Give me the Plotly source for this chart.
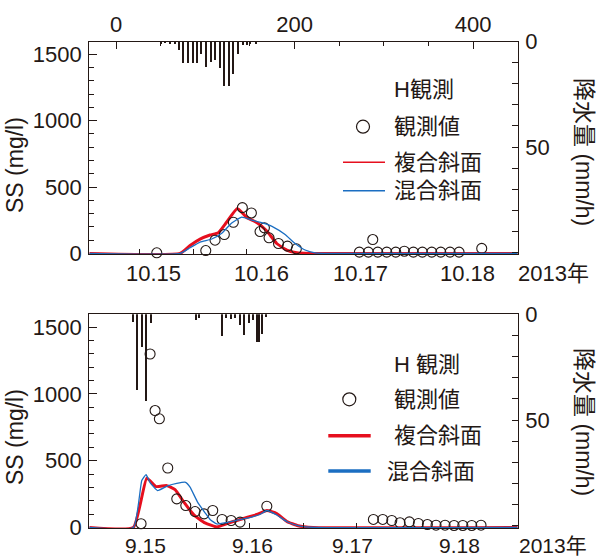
import plotly.graph_objects as go

W, H = 596, 558
INK = "#231815"
RED = "#e60f1e"
BLUE = "#1b6ec2"
FONT = "Liberation Sans, Arial, Noto Sans CJK JP"

# ---------------- data (x in hours, top axis scale) ----------------
# top panel (October event)
rain_top_x = [50.4, 55.7, 60.8, 66.1, 71.4, 75.9, 81.0, 86.3, 91.5, 96.0, 101.2,
              106.4, 111.7, 116.5, 121.8, 126.6, 131.9, 137.0, 142.3, 147.6, 150.1, 156.9]
rain_top_mm = [0.5, 0.3, 0.6, 0.6, 3.8, 9.8, 10.2, 10.2, 9.8, 5.9, 11.9,
               9.5, 8.7, 12.5, 21.0, 21.0, 15.0, 5.9, 1.4, 1.4, 1.0, 0.6]

obs_top_x = [45.6, 100.5, 110.9, 121.3, 131.4, 141.5, 151.6, 161.3, 166.2, 171.4, 182.0, 192.0, 202.0,
             272.6, 282.7, 287.6, 293.2, 303.3, 313.4, 323.0, 333.1, 343.2, 353.7, 363.8, 374.2, 384.3, 409.7]
obs_top_ss = [5, 22, 100, 143, 235, 345, 305, 165, 193, 118, 75, 55, 35,
              10, 10, 105, 10, 10, 10, 17, 10, 10, 10, 10, 10, 10, 38]

red_top_x = [-30, 71.7, 82.9, 94.1, 105.3, 114.6, 124.0, 135.9, 146.4, 157.6, 168.9, 180.0, 191.3, 202.5, 217, 450]
red_top_ss = [0, 0, 60, 108, 139, 156, 237, 338, 271, 233, 169, 75, 26, 5, 0, 0]

blue_top_x = [-30, 71.7, 82.9, 94.1, 107.2, 118.4, 129.6, 140.8, 152.0, 165.0, 176.2, 189.4, 200.6, 211.8, 223.0, 239.8, 450]
blue_top_ss = [0, 0, 43, 86, 109, 152, 230, 274, 252, 228, 199, 143, 75, 26, 5, 0, 0]

# bottom panel (September event)
rain_bot_x = [19.4, 24.3, 29.1, 34.4, 39.2, 89.6, 93.3, 119.6, 124.0, 128.9, 134.1,
              138.9, 144.0, 149.0, 153.8, 158.8, 160.2, 164.1, 168.9]
rain_bot_mm = [4.0, 36.0, 15.4, 41.0, 4.3, 3.0, 2.0, 10.3, 2.0, 2.3, 2.0,
               5.0, 10.0, 4.3, 3.0, 13.3, 13.3, 9.5, 1.4]

obs_bot_x = [28.0, 38.1, 43.7, 48.5, 57.9, 68.0, 78.1, 88.5, 98.6, 108.3, 118.8, 128.9, 138.9, 168.9,
             288.3, 298.8, 308.9, 318.2, 328.6, 338.7, 348.8, 358.5, 368.6, 378.7, 388.5, 398.5, 408.9]
obs_bot_ss = [28, 1298, 875, 813, 445, 214, 164, 119, 102, 127, 60, 52, 40, 159,
              60, 60, 52, 35, 42, 30, 22, 17, 17, 15, 15, 15, 17]

red_bot_x = [-30, 19.4, 34.4, 44.8, 56.8, 66.1, 76.2, 87.4, 99.7, 112.8, 127.7, 142.6, 157.6, 168.9, 180.0, 191.3, 203.9, 220.7, 450]
red_bot_ss = [0, 0, 369, 306, 313, 283, 187, 93, 34, 4, 37, 67, 97, 127, 104, 45, 13, 0, 0]

blue_bot_x = [-30, 19.4, 28.8, 33.6, 38.1, 46.5, 57.7, 68.0, 77.9, 82.9, 91.3, 99.7, 105.3, 112.8, 124.0,
              136.7, 152.0, 161.3, 168.9, 180.0, 192.2, 206.2, 223.0, 450]
blue_bot_ss = [0, 0, 351, 395, 336, 276, 311, 330, 338, 302, 190, 110, 60, 26, 37,
               56, 78, 97, 127, 93, 41, 10, 0, 0]

# tick labels
hour_ticks = [0, 200, 400]
date_top_pos = [41.5, 162.5, 273.4, 393.3]
date_top_txt = ["10.15", "10.16", "10.17", "10.18"]
date_top_marks = [26.1, 86.3, 146.4]
date_bot_pos = [32.5, 152.4, 264.4, 384.3]
date_bot_txt = ["9.15", "9.16", "9.17", "9.18"]
date_bot_marks = [89.6, 149.6, 209.5, 269.4]
ss_ticks = [0, 500, 1000, 1500]
rain_ticks = list(range(0, 101, 10))
rain_text = ["0" if v == 0 else ("50" if v == 50 else "") for v in rain_ticks]

# ---------------- layout helpers ----------------
def px(x):
    return x / W

def py(y):
    return 1 - y / H

XD = [px(89.3), px(517.7)]
TOP_D = [py(254.0), py(41.7)]
BOT_D = [py(528.0), py(314.3)]
XR = [-30, 450]

tickfont = dict(family=FONT, size=22, color=INK)
line = dict(showline=True, linecolor=INK, linewidth=1.2, showgrid=False, zeroline=False, automargin=False)
bare = dict(showline=False, showgrid=False, zeroline=False, automargin=False)

fig = go.Figure()

def add_panel(xa_bar, xa_red, xa_blue, xa_obs, ya, ya2, rx, rmm, ox, oss, rdx, rdy, blx, bly):
    fig.add_trace(go.Bar(x=rx, y=rmm, width=1.5, marker=dict(color=INK, line=dict(width=0)),
                         xaxis=xa_bar, yaxis=ya2, showlegend=False))
    fig.add_trace(go.Scatter(x=rdx, y=rdy, mode="lines", line=dict(color=RED, width=3.0, shape="spline", smoothing=0.4),
                             xaxis=xa_red, yaxis=ya, showlegend=False))
    fig.add_trace(go.Scatter(x=blx, y=bly, mode="lines", line=dict(color=BLUE, width=1.3, shape="spline", smoothing=0.4),
                             xaxis=xa_blue, yaxis=ya, showlegend=False))
    fig.add_trace(go.Scatter(x=ox, y=oss, mode="markers",
                             marker=dict(symbol="circle-open", size=10, color=INK, line=dict(width=1.1)),
                             xaxis=xa_obs, yaxis=ya, showlegend=False, cliponaxis=False))

# every axis (incl. overlaid tick-only axes) carries a trace so that it is drawn
add_panel("x", "x", "x5", "x2", "y", "y2", rain_top_x, rain_top_mm, obs_top_x, obs_top_ss,
          red_top_x, red_top_ss, blue_top_x, blue_top_ss)
add_panel("x3", "x3", "x6", "x3", "y3", "y4", rain_bot_x, rain_bot_mm, obs_bot_x, obs_bot_ss,
          red_bot_x, red_bot_ss, blue_bot_x, blue_bot_ss)

fig.update_layout(
    width=W, height=H, margin=dict(l=0, r=0, t=0, b=0, autoexpand=False),
    paper_bgcolor="white", plot_bgcolor="white",
    font=dict(family=FONT, color=INK),
    bargap=0,
    # top panel
    xaxis=dict(domain=XD, anchor="y", range=XR, showticklabels=False, ticks="", layer="below traces", **line),
    xaxis2=dict(overlaying="x", side="top", anchor="y", range=XR, tickmode="array", tickvals=hour_ticks,
                ticks="inside", ticklen=7, tickcolor=INK, tickfont=tickfont,
                minor=dict(dtick=50, tick0=0, ticks="inside", ticklen=4, tickcolor=INK), **line),
    xaxis5=dict(overlaying="x", side="bottom", anchor="y", range=XR, tickmode="array", tickvals=date_top_marks,
                ticks="inside", ticklen=5, tickcolor=INK, showticklabels=False, **bare),
    yaxis=dict(domain=TOP_D, anchor="x", range=[-4, 1595], tickmode="array", tickvals=ss_ticks,
               ticks="inside", ticklen=8, tickcolor=INK, tickfont=tickfont, ticklabelstandoff=2,
               minor=dict(dtick=100, tick0=0, ticks="inside", ticklen=5, tickcolor=INK), **line),
    yaxis2=dict(overlaying="y", side="right", anchor="x", range=[100.8, 0], tickmode="array", tickvals=rain_ticks,
                ticktext=rain_text, ticks="inside", ticklen=6, tickcolor=INK, tickfont=tickfont, ticklabelstandoff=2, **line),
    # bottom panel
    xaxis3=dict(domain=XD, anchor="y3", range=XR, showticklabels=False, ticks="", mirror=True,
                layer="below traces", **line),
    xaxis6=dict(overlaying="x3", side="bottom", anchor="y3", range=XR, tickmode="array", tickvals=date_bot_marks,
                ticks="inside", ticklen=5, tickcolor=INK, showticklabels=False, **bare),
    yaxis3=dict(domain=BOT_D, anchor="x3", range=[-4, 1595], tickmode="array", tickvals=ss_ticks,
                ticks="inside", ticklen=8, tickcolor=INK, tickfont=tickfont, ticklabelstandoff=2,
                minor=dict(dtick=100, tick0=0, ticks="inside", ticklen=5, tickcolor=INK), **line),
    yaxis4=dict(overlaying="y3", side="right", anchor="x3", range=[101, 0], tickmode="array", tickvals=rain_ticks,
                ticktext=rain_text, ticks="inside", ticklen=6, tickcolor=INK, tickfont=tickfont, ticklabelstandoff=2, **line),
)

# ---------------- titles & legends ----------------
def ann(text, x, y, size=22, angle=0, xanchor="center", yanchor="middle"):
    fig.add_annotation(text=text, x=px(x), y=py(y), xref="paper", yref="paper", showarrow=False,
                       textangle=angle, xanchor=xanchor, yanchor=yanchor, borderpad=0,
                       font=dict(family=FONT, size=size, color=INK))

# date tick labels, placed through the x scale
bot_font = dict(family=FONT, size=21, color=INK)
for p, t in zip(date_top_pos, date_top_txt):
    fig.add_annotation(text=t, x=p, y=py(273.5), xref="x", yref="paper", showarrow=False,
                       xanchor="center", yanchor="middle", font=tickfont)
for p, t in zip(date_bot_pos, date_bot_txt):
    fig.add_annotation(text=t, x=p, y=0, xref="x3", yref="paper", showarrow=False,
                       xanchor="center", yanchor="bottom", borderpad=0, font=bot_font)

ann("2013年", 553, 273.5, size=22)
ann("2013年", 553, 558, size=21, yanchor="bottom")
for yc_ss, yc_rain in [(165, 152), (437, 422)]:
    ann("SS (mg/l)", 15, yc_ss, size=23, angle=-90)
    ann("降水量 (mm/h)", 584, yc_rain, size=23, angle=90)

def legend(hy, oy, ry, by, cx, lx0, lx1, tx_obs, tx_red, tx_blue, head, lw):
    ann(head, 393, hy, xanchor="left")
    fig.add_shape(type="circle", xref="paper", yref="paper",
                  x0=px(cx - 6.5), x1=px(cx + 6.5), y0=py(oy + 6.5), y1=py(oy - 6.5),
                  line=dict(color=INK, width=1.2))
    ann("観測値", tx_obs, oy, xanchor="left")
    fig.add_shape(type="line", xref="paper", yref="paper", x0=px(lx0), x1=px(lx1), y0=py(ry), y1=py(ry),
                  line=dict(color=RED, width=lw))
    ann("複合斜面", tx_red, ry, xanchor="left")
    fig.add_shape(type="line", xref="paper", yref="paper", x0=px(lx0), x1=px(lx1), y0=py(by), y1=py(by),
                  line=dict(color=BLUE, width=lw))
    ann("混合斜面", tx_blue, by, xanchor="left")

legend(90, 126.7, 162.3, 190.7, 363, 343, 385, 393, 393, 393, "H観測", 1.5)
legend(364.3, 399.3, 435.7, 471, 349.3, 328.3, 370.7, 393, 393, 386, "H 観測", 3.5)

fig.write_html("out.html", config={"displayModeBar": False},
               post_script="document.body.style.margin='0';document.body.style.padding='0';")
